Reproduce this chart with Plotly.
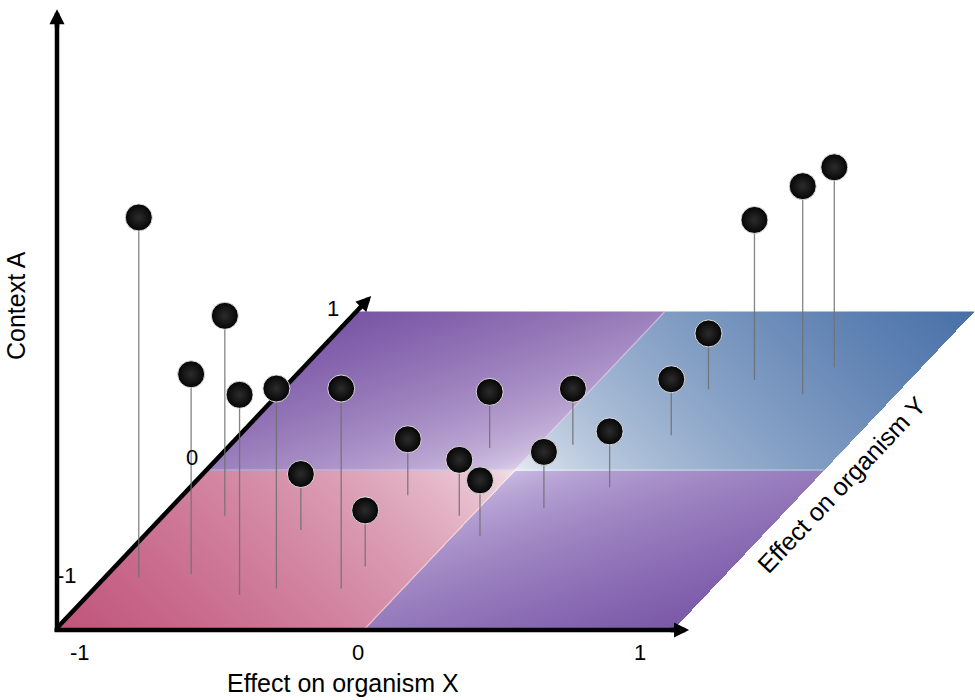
"""
Pin chart: effect on organism X / organism Y on a tilted plane, context A as pin height.
Drawn with an oblique projection on a pixel-sized 2D plot.
"""

import numpy as np
import plotly.graph_objects as go

# pins - position on the plane (effect X, effect Y, both -1..1) and height (context A)
effect_x = [-0.89, -0.80, -0.73, -0.51, -0.41, -0.20, -0.51, -0.19, -0.27, -0.15,
            -0.04, 0.09, 0.21, 0.11, 0.36, 0.40, 0.38, 0.50, 0.70, 0.72]
effect_y = [-0.68, -0.29, -0.66, -0.79, -0.75, -0.75, -0.38, -0.61, -0.16, 0.14,
            -0.29, -0.42, -0.24, 0.16, -0.11, 0.22, 0.51, 0.57, 0.48, 0.65]
context_a = [0.90, 0.50, 0.50, 0.50, 0.50, 0.50, 0.14, 0.14, 0.14, 0.14,
             0.14, 0.14, 0.14, 0.14, 0.14, 0.14, 0.14, 0.40, 0.52, 0.50]

x_tick_labels = ["-1", "0", "1"]
y_tick_labels = ["-1", "0", "1"]

# projection (page pixels): corner of the plane, px per unit along each direction
ORIGIN_X, ORIGIN_Y = 57, 628
UNIT_X = 308.5
DEPTH_DX, DEPTH_DY = 149.5, 158
UNIT_H = 400


def project(u, v, h=0):
    u = np.asarray(u, float)
    v = np.asarray(v, float)
    h = np.asarray(h, float)
    px = ORIGIN_X + (u + 1) * UNIT_X + (v + 1) * DEPTH_DX
    py = ORIGIN_Y - (v + 1) * DEPTH_DY - h * UNIT_H
    return px, py


fig = go.Figure()

# --- the plane: four quadrants fading to white toward the centre
gx = np.arange(ORIGIN_X, 976, 1.0)
gy = np.arange(ORIGIN_Y - 2 * DEPTH_DY, ORIGIN_Y + 1, 1.0)
PX, PY = np.meshgrid(gx, gy)
V = (ORIGIN_Y - PY) / DEPTH_DY - 1
U = (PX - ORIGIN_X - (V + 1) * DEPTH_DX) / UNIT_X - 1
inside = (np.abs(U) <= 1) & (np.abs(V) <= 1)
quad = (U >= 0).astype(int) + 2 * (V >= 0).astype(int)  # 0 BL, 1 BR, 2 TL, 3 TR
t = np.clip((np.abs(U) + np.abs(V)) / 2, 0, 1) ** 0.6
Z = np.where(inside, quad + 0.998 * t, np.nan).astype(np.float32)

quad_colors = [("#f6e6ec", "#c0547b"),   # bottom left - rose
               ("#cdbfe4", "#7a58a8"),   # bottom right - purple
               ("#e0d4ec", "#7955a5"),   # top left - purple
               ("#eef2f7", "#4870a8")]   # top right - blue
colorscale = []
for q, (light, dark) in enumerate(quad_colors):
    colorscale.append([q / 4, light])
    colorscale.append([(q + 0.999) / 4, dark])
colorscale[-1][0] = 1.0

fig.add_trace(go.Heatmap(
    x=gx, y=gy, z=Z, zmin=0, zmax=4, colorscale=colorscale,
    showscale=False, hoverinfo="skip", zsmooth=False
))

# faint light seams between the quadrants
for (u0, v0), (u1, v1) in [((-1, 0), (1, 0)), ((0, -1), (0, 1))]:
    sx, sy = project([u0, u1], [v0, v1])
    fig.add_trace(go.Scatter(x=sx, y=sy, mode="lines", hoverinfo="skip",
                             line=dict(color="rgba(255,255,255,0.45)", width=1.2)))

# --- axes (line traces, heads as annotation arrows)
axes = [
    project([-1.008, 1.062], [-1, -1], [-0.005, -0.005]),  # effect on organism X
    project([-1, -1], [-1, 1.12]),                          # effect on organism Y
    project([-1, -1], [-1, -1], [-0.01, 1.557]),            # context A
]
head_annotations = []
for ax_x, ax_y in axes:
    dx, dy = ax_x[1] - ax_x[0], ax_y[1] - ax_y[0]
    n = np.hypot(dx, dy)
    ux, uy = dx / n, dy / n
    fig.add_trace(go.Scatter(
        x=[ax_x[0], ax_x[1] - 10 * ux], y=[ax_y[0], ax_y[1] - 10 * uy],
        mode="lines", hoverinfo="skip", line=dict(color="black", width=4.5)
    ))
    head_annotations.append(dict(
        x=ax_x[1] - 4 * ux, y=ax_y[1] - 4 * uy,
        ax=ax_x[1] - 24 * ux, ay=ax_y[1] - 24 * uy, axref="x", ayref="y",
        xref="x", yref="y", text="", showarrow=True,
        arrowhead=2, arrowsize=0.67, arrowwidth=4.5, arrowcolor="black", standoff=0
    ))

# --- pins: stems then heads (far ones first)
base_x, base_y = project(effect_x, effect_y)
top_x, top_y = project(effect_x, effect_y, context_a)

stem_x, stem_y = [], []
for bx, by, tx, ty in zip(base_x, base_y, top_x, top_y):
    stem_x += [bx, tx, None]
    stem_y += [by, ty, None]
fig.add_trace(go.Scatter(x=stem_x, y=stem_y, mode="lines", hoverinfo="skip",
                         line=dict(color="rgba(110,110,110,0.85)", width=1.3)))

order = np.argsort(-np.asarray(effect_y), kind="stable")
fig.add_trace(go.Scatter(
    x=top_x[order], y=top_y[order], mode="markers",
    customdata=np.column_stack([np.asarray(effect_x)[order], np.asarray(effect_y)[order],
                                np.asarray(context_a)[order]]),
    hovertemplate="X: %{customdata[0]}<br>Y: %{customdata[1]}<br>Context A: %{customdata[2]}<extra></extra>",
    marker=dict(size=27, color="#050505",
                gradient=dict(type="radial", color="#2c2c2c"),
                line=dict(color="rgba(235,235,235,0.9)", width=1))
))

# --- text
font = dict(family="Liberation Sans, Arial, sans-serif", color="black")
annotations = []
for label, pos in zip(x_tick_labels, [(80, 652), (358, 652), (640, 652)]):
    annotations.append(dict(x=pos[0], y=pos[1], text=label, font=dict(size=22, **font)))
for label, pos in zip(y_tick_labels, [(67, 575), (192, 457), (333, 308)]):
    annotations.append(dict(x=pos[0], y=pos[1], text=label, font=dict(size=22, **font)))
annotations.append(dict(x=343, y=683, text="Effect on organism X", font=dict(size=25, **font)))
annotations.append(dict(x=841, y=485, text="Effect on organism Y", textangle=-46.6,
                        font=dict(size=25, **font)))
annotations.append(dict(x=16, y=306, text="Context A", textangle=-90, font=dict(size=25, **font)))
for a in annotations:
    a.update(xref="x", yref="y", showarrow=False)

fig.update_layout(
    width=975, height=700,
    margin=dict(l=0, r=0, t=0, b=0),
    plot_bgcolor="white", paper_bgcolor="white",
    showlegend=False,
    annotations=annotations + head_annotations,
    xaxis=dict(range=[0, 975], visible=False, fixedrange=True),
    yaxis=dict(range=[700, 0], visible=False, fixedrange=True),
)

# the page body has a default margin; drop it so the 975x700 figure fills the window
fig.write_html("out.html", config={"displayModeBar": False},
               post_script="document.body.style.margin='0px';")
